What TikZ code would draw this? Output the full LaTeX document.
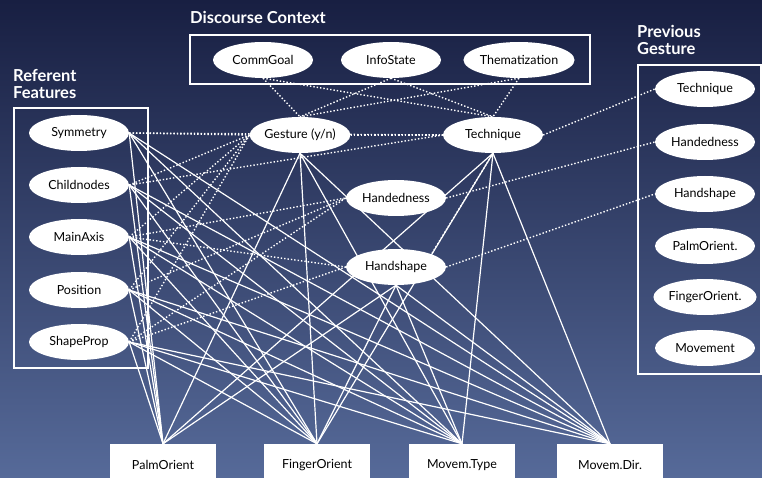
\documentclass[tikz,border=0pt]{standalone}
\usepackage{fontspec}
\setmainfont{Lato}
\usepackage{tikz}
\usetikzlibrary{shapes.geometric}
\definecolor{navytop}{RGB}{24,31,66}
\definecolor{navybot}{RGB}{86,106,153}
\pgfdeclarelayer{bg}
\pgfdeclarelayer{edges}
\pgfsetlayers{bg,edges,main}
\tikzset{
  var/.style = {ellipse, fill=white, inner sep=0pt, text centered,
    minimum width=100, minimum height=36,
    font=\fontsize{12.5}{14}\selectfont},% chance node (ellipse)
  dec/.style = {rectangle, fill=white, inner sep=0pt, text centered,
    minimum width=106, minimum height=42,
    font=\fontsize{12.5}{14}\selectfont},% decision node (box)
  grpbox/.style = {draw=white, line width=1.4pt},
  hdr/.style = {white, anchor=west, align=left, inner sep=0pt,
    font=\bfseries\fontsize{16.5}{17}\selectfont},
  lnk/.style = {white, line width=1.2pt},
  dep/.style = {white, line width=1.4pt, dotted}
}

\begin{document}
\begin{tikzpicture}[x=1pt,y=-1pt]
\useasboundingbox (0,0) rectangle (762,478);
\begin{pgfonlayer}{bg}
\shade[top color=navytop, bottom color=navybot] (0,0) rectangle (762,478);
\end{pgfonlayer}
\clip (0,0) rectangle (762,478);

% discourse context
\node[hdr] (dctitle) at (190,17) {Discourse Context};
\draw[grpbox] (190,35) rectangle (590,84);
\node[var] (cgoal) at (263,60) {CommGoal};
\node[var] (istate) at (391,60) {InfoState};
\node[var] (thema) at (519,60) {Thematization};

% referent features
\node[hdr] (rftitle) at (13,84) {Referent\\Features};
\draw[grpbox] (14,108) rectangle (148,368);
\node[var] (sym) at (79,133) {Symmetry};
\node[var] (child) at (79,185) {Childnodes};
\node[var] (axis) at (79,237) {MainAxis};
\node[var] (pos) at (79,290) {Position};
\node[var] (shape) at (79,342) {ShapeProp};

% previous gesture
\node[hdr] (pgtitle) at (637,40) {Previous\\Gesture};
\draw[grpbox] (638,65) rectangle (761,374);
\node[var] (ptech) at (705,89) {Technique};
\node[var] (phand) at (705,142) {Handedness};
\node[var] (pshape) at (705,194) {Handshape};
\node[var] (ppalm) at (705,246) {PalmOrient.};
\node[var] (pfinger) at (705,297) {FingerOrient.};
\node[var] (pmove) at (705,348) {Movement};

% chance nodes
\node[var] (gest) at (300,135) {Gesture (y/n)};
\node[var] (tech) at (493,135) {Technique};
\node[var] (hand) at (396,198) {Handedness};
\node[var] (hshape) at (396,267) {Handshape};

% decision nodes
\node[dec] (palm) at (163,465) {PalmOrient};
\node[dec] (finger) at (317,465) {FingerOrient};
\node[dec] (mtype) at (462,465) {Movem.Type};
\node[dec] (mdir) at (610,465) {Movem.Dir.};

\begin{pgfonlayer}{edges}
% links into decisions
\foreach \s in {sym,child,axis,pos,shape}
  \foreach \t in {palm,finger,mtype,mdir}
    \draw[lnk] (\s.east) -- (\t.north);
\foreach \s in {gest,tech,hshape}
  \foreach \t in {palm,finger,mtype,mdir}
    \draw[lnk] (\s.south) -- (\t.north);
% learned dependencies
\foreach \s in {cgoal,istate,thema}
  \foreach \t in {gest,tech}
    \draw[dep] (\s.south) -- (\t.north);
\foreach \s in {sym,child,axis,pos,shape}
  \draw[dep] (\s.east) -- (gest.west);
\draw[dep] (sym.east) -- (tech.west);
\draw[dep] (child.east) -- (tech.west);
\draw[dep] (axis.east) -- (hand.west);
\draw[dep] (pos.east) -- (hand.west);
\draw[dep] (shape.east) -- (hand.west);
\draw[dep] (axis.east) -- (hshape.west);
\draw[dep] (shape.east) -- (hshape.west);
\draw[dep] (gest.east) -- (tech.west);
\draw[dep] (tech.south) -- (hshape.north east);
\draw[dep] (tech.east) -- (ptech.west);
\draw[dep] (hand.east) -- (phand.west);
\draw[dep] (hshape.east) -- (pshape.west);
\end{pgfonlayer}
\end{tikzpicture}
\end{document}
